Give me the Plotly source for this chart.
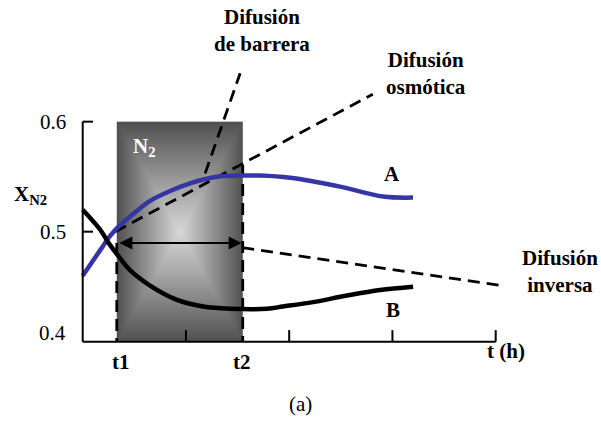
import numpy as np
import plotly.graph_objects as go

# Time axis (arbitrary units) and the two N2 mole-fraction curves
t_a = [0.0, 0.168, 0.264, 0.361, 0.487, 0.652, 0.846, 1.039, 1.30, 1.52, 1.717, 2.008, 2.492, 2.909, 3.199]
x_a = [0.460, 0.483, 0.496, 0.506, 0.516, 0.528, 0.537, 0.544, 0.550, 0.551, 0.551, 0.549, 0.541, 0.532, 0.531]

t_b = [0.0, 0.168, 0.264, 0.361, 0.458, 0.652, 0.913, 1.165, 1.427, 1.785, 1.94, 2.23, 2.56, 2.88, 3.20]
x_b = [0.520, 0.502, 0.488, 0.476, 0.465, 0.451, 0.438, 0.432, 0.430, 0.430, 0.432, 0.436, 0.442, 0.447, 0.450]

# N2 exposure window
t1, t2 = 0.33, 1.55
y_lo, y_hi = 0.4, 0.6

# Axis ticks
y_ticks = [0.4, 0.5, 0.6]
y_tick_labels = ["0.4", "0.5", "0.6"]
x_ticks = [0, 1, 2, 3, 4]

# Guide lines (start / end points)
osm_t, osm_y = [0.315, 2.81], [0.500, 0.625]
bar_t, bar_y = [1.186, 1.525], [0.553, 0.644]
inv_t, inv_y = [1.545, 4.042], [0.4855, 0.4513]
arrow_y = 0.4897
t2_top = 0.5606

FONT = "Liberation Serif, Times New Roman, serif"
x_range = [-0.801, 5.020]
y_range = [0.3261, 0.7106]

fig = go.Figure()

# Shaded N2 window with a rectangular gradient
nx, ny = 126, 220
xe = np.linspace(t1, t2, nx + 1)
ye = np.linspace(y_lo, y_hi, ny + 1)
xc = (xe[:-1] + xe[1:]) / 2
yc = (ye[:-1] + ye[1:]) / 2
u = (xc - (t1 + t2) / 2) / ((t2 - t1) / 2)
v = (yc - (y_lo + y_hi) / 2) / ((y_hi - y_lo) / 2)
U, V = np.meshgrid(u, v)
zg = np.maximum(np.abs(U), np.abs(V))
fig.add_trace(go.Heatmap(
    x=xe, y=ye, z=zg, showscale=False, hoverinfo="skip",
    colorscale=[[0, "rgb(215,215,215)"], [0.35, "rgb(170,170,170)"],
                [0.75, "rgb(115,115,115)"], [1, "rgb(80,80,80)"]],
    zmin=0, zmax=1,
))

dash = "12px,7px"
# Dashed guide lines
for tt, yy in [(osm_t, osm_y), (bar_t, bar_y), (inv_t, inv_y),
               ([t1, t1], [arrow_y, y_lo]), ([t2, t2], [t2_top, y_lo])]:
    fig.add_trace(go.Scatter(x=tt, y=yy, mode="lines", hoverinfo="skip",
                             line=dict(color="black", width=2.8, dash=dash)))

# Curves A and B
fig.add_trace(go.Scatter(x=t_a, y=x_a, mode="lines", line=dict(color="#3535a5", width=4.5, shape="spline"),
                         hoverinfo="skip"))
fig.add_trace(go.Scatter(x=t_b, y=x_b, mode="lines", line=dict(color="black", width=4.5, shape="spline"),
                         hoverinfo="skip"))

# Axes drawn as lines with inward ticks
fig.add_trace(go.Scatter(x=[0, 0], y=[y_lo, y_hi], mode="lines", line=dict(color="black", width=2), hoverinfo="skip"))
fig.add_trace(go.Scatter(x=[0, x_ticks[-1]], y=[y_lo, y_lo], mode="lines", line=dict(color="black", width=2), hoverinfo="skip"))
for yt in y_ticks[1:]:
    fig.add_trace(go.Scatter(x=[0, 0.1], y=[yt, yt], mode="lines", line=dict(color="black", width=2), hoverinfo="skip"))
for xt in x_ticks[1:]:
    fig.add_trace(go.Scatter(x=[xt, xt], y=[y_lo, y_lo + 0.0105], mode="lines", line=dict(color="black", width=2), hoverinfo="skip"))

ann = []
# Double arrow between t1 and t2
ann.append(dict(x=t2 - 0.01, y=arrow_y, ax=t1 + 0.01, ay=arrow_y, xref="x", yref="y", axref="x", ayref="y",
                text="", showarrow=True, arrowhead=2, startarrowhead=2, arrowside="end+start",
                arrowwidth=2, arrowsize=1.3, startarrowsize=1.3, arrowcolor="black"))

bold = dict(family=FONT, size=21, color="black")
for txt, x, y in [("Difusión<br>de barrera", 1.737, 0.6825),
                  ("Difusión<br>osmótica", 3.324, 0.6434),
                  ("Difusión<br>inversa", 4.623, 0.4642),
                  ("A", 2.996, 0.5525),
                  ("B", 3.006, 0.4288),
                  ("t1", t1 + 0.04, 0.3816),
                  ("t2", t2 - 0.01, 0.3816),
                  ("t (h)", 4.10, 0.3916)]:
    ann.append(dict(x=x, y=y, xref="x", yref="y", text="<b>%s</b>" % txt.replace("<br>", "</b><br><b>"),
                    showarrow=False, font=bold, xanchor="center", yanchor="middle"))

ann.append(dict(x=-0.51, y=0.533, xref="x", yref="y", text="<b>X<sub>N2</sub></b>", showarrow=False,
                font=bold, xanchor="center", yanchor="middle"))
ann.append(dict(x=0.594, y=0.577, xref="x", yref="y", text="<b>N<sub>2</sub></b>", showarrow=False,
                font=dict(family=FONT, size=21, color="white"), xanchor="center", yanchor="middle"))

for yt, lab in zip(y_ticks, y_tick_labels):
    ann.append(dict(x=-0.142, y=yt, xref="x", yref="y", text=lab, showarrow=False,
                    font=dict(family=FONT, size=21, color="black"), xanchor="right", yanchor="middle",
                    yshift=9 if yt == y_lo else 0))

ann.append(dict(x=0.5008, y=0.0449, xref="paper", yref="paper", text="(a)", showarrow=False,
                font=dict(family=FONT, size=21, color="black"), xanchor="center", yanchor="middle"))

fig.update_layout(
    width=601, height=423,
    margin=dict(l=0, r=0, t=0, b=0),
    paper_bgcolor="white", plot_bgcolor="white",
    showlegend=False,
    xaxis=dict(range=x_range, visible=False, fixedrange=True),
    yaxis=dict(range=y_range, visible=False, fixedrange=True),
    annotations=ann,
)

fig.write_html("out.html")
